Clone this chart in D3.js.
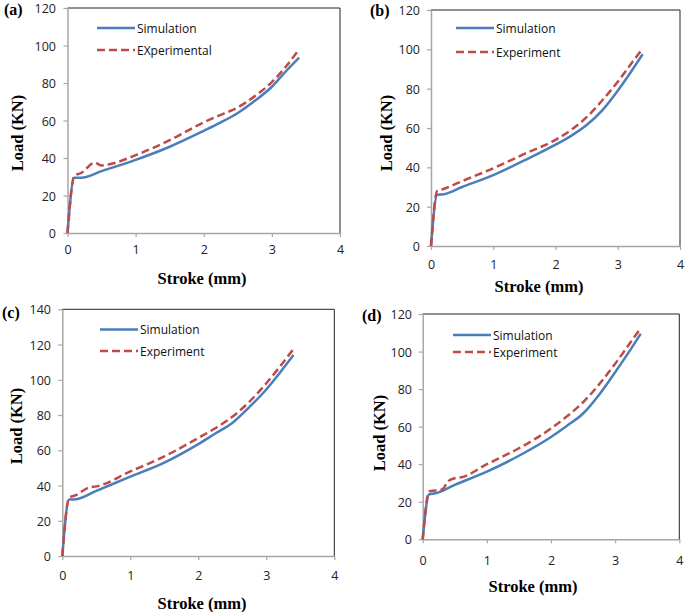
<!DOCTYPE html>
<html><head><meta charset="utf-8">
<script src="https://cdn.jsdelivr.net/npm/d3@7"></script>
<style>body{margin:0;background:#fff}svg{display:block}</style>
</head><body>
<svg id="c" width="685" height="612"></svg>
<script>
// ---- data ----
const xTicks = [0, 1, 2, 3, 4];
const yTicksA = [0, 20, 40, 60, 80, 100, 120];
const yTicksC = [0, 20, 40, 60, 80, 100, 120, 140];
const panelLabels = ["(a)", "(b)", "(c)", "(d)"];
const legendA = ["Simulation", "EXperimental"];
const legendB = ["Simulation", "Experiment"];

const simA = [[0,0],[0.1,29.5],[0.2,29.5],[0.5,33],[1,39],[1.5,46],[2,54.5],[2.25,59],[2.5,64],[2.75,70.5],[3,78],[3.2,86],[3.4,93.5]];
const expA = [[0,0],[0.1,30.5],[0.2,32],[0.4,37.5],[0.5,36],[0.6,36.5],[1,41.5],[1.5,49.5],[2,59],[2.25,63],[2.5,67],[2.75,73],[3,80.5],[3.2,88.5],[3.4,98]];
const simB = [[0,0],[0.1,26],[0.2,26.3],[0.5,30],[1,36],[1.5,43.5],[2,51.5],[2.25,56],[2.5,61.5],[2.75,69],[3,79],[3.2,88],[3.4,97.5]];
const expB = [[0,0],[0.1,28],[0.2,29],[0.5,33],[1,39.5],[1.5,46.8],[2,54],[2.25,59],[2.5,65.5],[2.75,74],[3,83.5],[3.2,92],[3.4,100.5]];
const simC = [[0,0],[0.1,32],[0.2,32.2],[0.5,37],[1,45],[1.5,53],[2,63.5],[2.25,69.5],[2.5,75.5],[2.75,84.5],[3,94.5],[3.2,104],[3.4,114]];
const expC = [[0,0],[0.1,33],[0.2,34.5],[0.4,39],[0.5,39.5],[1,48],[1.5,56.5],[2,67],[2.25,72.5],[2.5,79],[2.75,87.5],[3,98],[3.2,107.5],[3.4,117.5]];
const simD = [[0,0],[0.1,24],[0.2,24.5],[0.5,29],[1,36],[1.5,44.5],[2,54.5],[2.25,60.5],[2.5,67],[2.75,77],[3,89],[3.2,99],[3.4,109.5]];
const expD = [[0,0],[0.1,25.5],[0.2,26],[0.3,26.5],[0.4,31],[0.5,32.5],[0.6,33],[1,40],[1.5,48.5],[2,59],[2.25,65.5],[2.5,73],[2.75,82.5],[3,93.5],[3.2,103],[3.4,112.5]];

// ---- layout ----
const panels = [
  {lab:panelLabels[0], sim:simA, exp:expA, yMax:120, yTicks:yTicksA, leg:legendA,
   L:67.5, R:340, T:8, B:233, labX:4, labY:15, xtY:251, xtitleX:202, xtitleY:284, ytitleX:23, ytitleY:133, ytEnd:56,
   legX:97, legY1:28, legY2:50},
  {lab:panelLabels[1], sim:simB, exp:expB, yMax:120, yTicks:yTicksA, leg:legendB,
   L:431, R:680, T:10, B:246, labX:370, labY:16, xtY:266, xtitleX:539, xtitleY:292, ytitleX:392, ytitleY:133, ytEnd:420,
   legX:456, legY1:28, legY2:52},
  {lab:panelLabels[2], sim:simC, exp:expC, yMax:140, yTicks:yTicksC, leg:legendB,
   L:62.3, R:334.3, T:309.3, B:556, labX:2, labY:318, xtY:577, xtitleX:202, xtitleY:609, ytitleX:22, ytitleY:426, ytEnd:51,
   legX:100, legY1:329.5, legY2:351},
  {lab:panelLabels[3], sim:simD, exp:expD, yMax:120, yTicks:yTicksA, leg:legendB,
   L:422.7, R:679.3, T:314, B:539.3, labX:362, labY:321, xtY:562, xtitleX:533, xtitleY:592, ytitleX:385, ytitleY:433, ytEnd:412,
   legX:453, legY1:335, legY2:352}
];

const blue = "#4a7ebb", red = "#be4b48";
const svg = d3.select("#c");

panels.forEach(p => {
  const x = d3.scaleLinear().domain([0, 4]).range([p.L, p.R]);
  const y = d3.scaleLinear().domain([0, p.yMax]).range([p.B, p.T]);
  const g = svg.append("g");

  // frame top/right
  g.append("path").attr("d", `M${p.L},${p.T}H${p.R}V${p.B}`)
    .attr("fill","none").attr("stroke","#222").attr("stroke-width",1);

  // axes
  const xa = g.append("g").attr("transform",`translate(0,${p.B})`)
    .call(d3.axisBottom(x).tickValues(xTicks).tickSize(4).tickSizeOuter(0).tickFormat(d3.format("d")));
  const ya = g.append("g").attr("transform",`translate(${p.L},0)`)
    .call(d3.axisLeft(y).tickValues(p.yTicks).tickSize(4).tickSizeOuter(0).tickFormat(d3.format("d")));
  [xa, ya].forEach(a => {
    a.select(".domain").attr("stroke","#a6a6a6").attr("stroke-width",1.5);
    a.selectAll(".tick line").attr("stroke","#a6a6a6").attr("stroke-width",1.2);
    a.selectAll("text").attr("font-family","'Open Sans', sans-serif").attr("font-size",12.5).attr("fill","#222");
  });
  xa.selectAll("text").attr("y", null).attr("dy", null)
    .attr("transform", `translate(0,${p.xtY - p.B})`).attr("dominant-baseline","middle");
  ya.selectAll("text").attr("x", null).attr("dy", null)
    .attr("transform", `translate(${p.ytEnd - p.L},0)`).attr("dominant-baseline","central");

  // lines
  const line = d3.line().x(d => x(d[0])).y(d => y(d[1])).curve(d3.curveMonotoneX);
  g.append("path").datum(p.sim).attr("d", line).attr("fill","none")
    .attr("stroke", blue).attr("stroke-width", 2.5);
  g.append("path").datum(p.exp).attr("d", line).attr("fill","none")
    .attr("stroke", red).attr("stroke-width", 2.5).attr("stroke-dasharray","8,4");

  // legend
  const lg = g.append("g");
  lg.append("line").attr("x1",p.legX).attr("x2",p.legX+38).attr("y1",p.legY1).attr("y2",p.legY1)
    .attr("stroke",blue).attr("stroke-width",2.5);
  lg.append("line").attr("x1",p.legX).attr("x2",p.legX+38).attr("y1",p.legY2).attr("y2",p.legY2)
    .attr("stroke",red).attr("stroke-width",2.5).attr("stroke-dasharray","8,4");
  [[p.leg[0],p.legY1],[p.leg[1],p.legY2]].forEach(([t,yy]) => {
    lg.append("text").attr("x",p.legX+40).attr("y",yy).attr("dominant-baseline","central")
      .attr("font-family","'Open Sans', sans-serif").attr("font-size",12).attr("fill","#111").text(t);
  });

  // titles
  const serif = "'Liberation Serif','Times New Roman',serif";
  g.append("text").attr("x",p.xtitleX).attr("y",p.xtitleY).attr("text-anchor","middle")
    .attr("font-family",serif).attr("font-weight","bold").attr("font-size",16.5).text("Stroke (mm)");
  g.append("text").attr("transform",`translate(${p.ytitleX},${p.ytitleY}) rotate(-90)`).attr("text-anchor","middle")
    .attr("font-family",serif).attr("font-weight","bold").attr("font-size",16.5).text("Load (KN)");
  g.append("text").attr("x",p.labX).attr("y",p.labY)
    .attr("font-family",serif).attr("font-weight","bold").attr("font-size",16).text(p.lab);
});
</script>
</body></html>
